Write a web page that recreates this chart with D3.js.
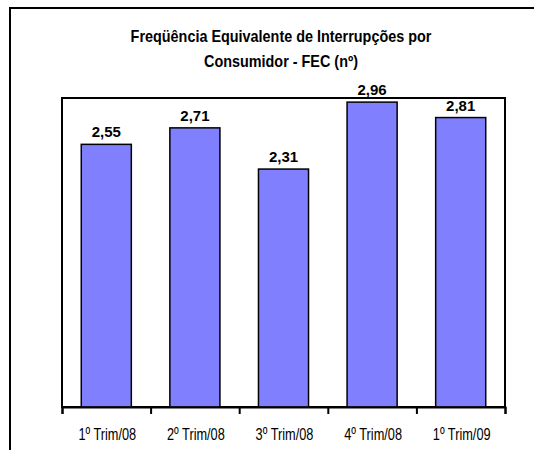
<!DOCTYPE html>
<html><head><meta charset="utf-8">
<script src="https://cdn.jsdelivr.net/npm/d3@7"></script>
<style>body{margin:0;background:#fff}svg{display:block}</style>
</head><body>
<script>
const categories = ["1º Trim/08","2º Trim/08","3º Trim/08","4º Trim/08","1º Trim/09"];
const values = [2.55, 2.71, 2.31, 2.96, 2.81];
const valueLabels = ["2,55","2,71","2,31","2,96","2,81"];
const titleLines = ["Freqüência Equivalente de Interrupções por","Consumidor - FEC (nº)"];

const W = 534, H = 450;
const svg = d3.select("body").append("svg").attr("width", W).attr("height", H);
const font = "'Liberation Sans',Arial,sans-serif";

// outer frame
svg.append("line").attr("x1",9).attr("x2",W).attr("y1",8).attr("y2",8).attr("stroke","#000").attr("stroke-width",2);
svg.append("line").attr("x1",10).attr("x2",10).attr("y1",7).attr("y2",H).attr("stroke","#000").attr("stroke-width",2);

const plot = {left:62, right:505, top:98, bottom:407};
const x = d3.scaleBand().domain(categories).range([plot.left, plot.right]).paddingInner(0.435).paddingOuter(0.2175);
const y = d3.scaleLinear().domain([0,3]).range([plot.bottom, plot.top]);

svg.append("rect").attr("x",plot.left).attr("y",plot.top).attr("width",plot.right-plot.left).attr("height",plot.bottom-plot.top)
  .attr("fill","none").attr("stroke","#000").attr("stroke-width",2);

svg.selectAll("rect.bar").data(values).join("rect").attr("class","bar")
  .attr("x",(d,i)=>x(categories[i])).attr("width",x.bandwidth())
  .attr("y",d=>y(d)).attr("height",d=>y(0)-y(d))
  .attr("fill","#8080FF").attr("stroke","#000").attr("stroke-width",1.5);

svg.selectAll("text.val").data(values).join("text").attr("class","val")
  .attr("x",(d,i)=>x(categories[i])+x.bandwidth()/2).attr("y",d=>y(d)-7)
  .attr("text-anchor","middle").attr("font-family",font).attr("font-weight","bold").attr("font-size",15)
  .text((d,i)=>valueLabels[i]);

const xAxis = d3.axisBottom(d3.scalePoint().domain(d3.range(6)).range([plot.left, plot.right])).tickSize(7).tickFormat("");
const ag = svg.append("g").attr("transform",`translate(0,${plot.bottom})`).call(xAxis);
ag.select(".domain").attr("stroke","#000").attr("stroke-width",2);
ag.selectAll(".tick line").attr("stroke","#000").attr("stroke-width",2);

svg.selectAll("text.cat").data(categories).join("text").attr("class","cat")
  .attr("transform",d=>`translate(${x(d)+x.bandwidth()/2+1},440) scale(0.75,1)`)
  .attr("text-anchor","middle").attr("font-family",font).attr("font-size",17)
  .text(d=>d);

svg.selectAll("text.title").data(titleLines).join("text").attr("class","title")
  .attr("transform",(d,i)=>`translate(281,${42+i*25}) scale(0.9,1)`)
  .attr("text-anchor","middle").attr("font-family",font).attr("font-weight","bold").attr("font-size",16)
  .text(d=>d);
</script>
</body></html>
